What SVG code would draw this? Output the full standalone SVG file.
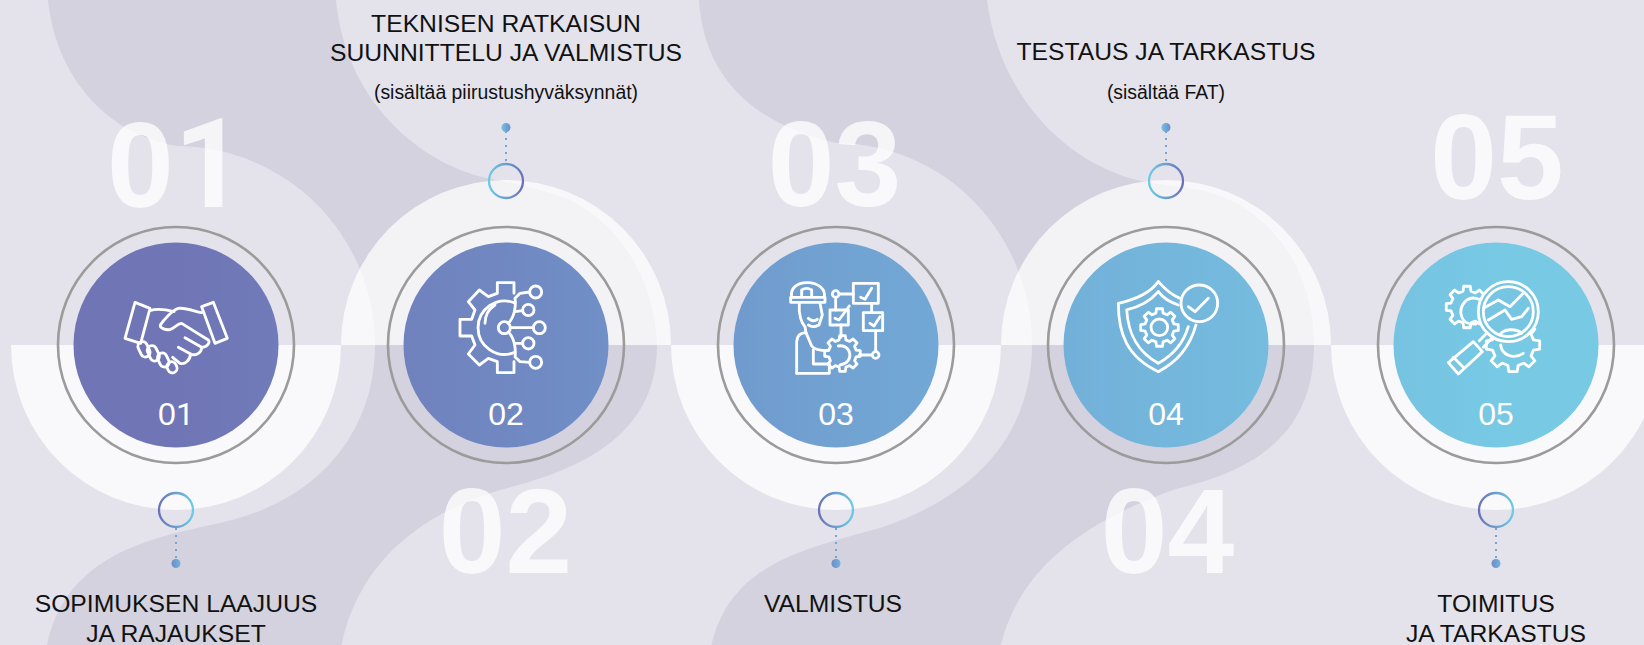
<svg xmlns="http://www.w3.org/2000/svg" xmlns:xlink="http://www.w3.org/1999/xlink" width="1644" height="645" viewBox="0 0 1644 645">
<style>
text{font-family:"Liberation Sans",Arial,sans-serif;text-anchor:middle}
.big{font-size:120px;font-weight:700;fill:#fff;fill-opacity:.76}
.one{font-family:Roboto,"Liberation Sans",sans-serif}
.lab{font-size:24.700px;fill:#111}
.sub{font-size:19.400px;fill:#111}
.num{font-size:32px;fill:#fff}
.ring{fill:none;stroke:#9b9b9b;stroke-width:2.600}
.icon{fill:none;stroke:#fff;stroke-width:8.500;stroke-linejoin:round;stroke-linecap:round}
.gear{fill:none;stroke:#fff;stroke-width:2.800;stroke-linejoin:round;vector-effect:non-scaling-stroke}
.up{fill:#fff;fill-opacity:.72}
.down{fill:#fff;fill-opacity:.76}
.wave{fill:#d3d2de}
.dots{stroke:#6ea6dc;stroke-width:2;stroke-dasharray:2 5;fill:none}
.rt{fill:none;stroke:url(#rt);stroke-width:2.300}
.rb{fill:none;stroke:url(#rb);stroke-width:2.300}
</style>
<defs>
<linearGradient id="all" gradientUnits="userSpaceOnUse" x1="176" y1="0" x2="1496" y2="0">
<stop offset="0" stop-color="#7075b5"/><stop offset=".25" stop-color="#7088c2"/><stop offset=".5" stop-color="#71a2d2"/><stop offset=".75" stop-color="#74b6dc"/><stop offset="1" stop-color="#77c9e4"/>
</linearGradient>
<linearGradient id="rt"><stop offset="0" stop-color="#6ccbe4"/><stop offset="1" stop-color="#6a72b8"/></linearGradient>
<linearGradient id="rb"><stop offset="0" stop-color="#6a72b8"/><stop offset="1" stop-color="#6ccbe4"/></linearGradient>
<linearGradient id="dt" x1="0" x2="1"><stop offset="0" stop-color="#6fc3e2"/><stop offset="1" stop-color="#6f8ac6"/></linearGradient>
<linearGradient id="db" x1="0" x2="1"><stop offset="0" stop-color="#6f8ac6"/><stop offset="1" stop-color="#6fb5dc"/></linearGradient>
<path id="gearShape" class="gear" d="M75.700,-18.900L98.800,-15.600L98.800,15.600L75.700,18.900L66.900,40.200L80.900,58.800L58.800,80.900L40.200,66.900L18.900,75.700L15.600,98.800L-15.600,98.800L-18.900,75.700L-40.200,66.900L-58.800,80.900L-80.900,58.800L-66.900,40.200L-75.700,18.900L-98.800,15.600L-98.800,-15.600L-75.700,-18.900L-66.900,-40.200L-80.900,-58.800L-58.800,-80.900L-40.200,-66.900L-18.900,-75.700L-15.600,-98.800L15.600,-98.800L18.900,-75.700L40.200,-66.900L58.800,-80.900L80.900,-58.800L66.900,-40.200Z"/>
</defs>
<rect width="1644" height="645" fill="#e4e3ec"/>
<path class="wave" d="M48,0C55,70 100,132 176,146A199,199 0 0 1 375,345C375,430 320,505 210,525C140,540 65,560 47,645L341.500,645C355,580 400,520 500,490C590,468 657,430 657,345C655,280 620,225 570,200C530,185 510,183 491,179C420,165 345,100 336,0Z"/>
<path class="wave" d="M699,0C703,70 745,122 836,143A196,202 0 0 1 1032,345C1032,430 980,495 880,528C800,550 730,565 711.500,645L1000.700,645C1016,585 1060,530 1176,489C1260,470 1314,430 1314,345C1314,270 1270,205 1200,190C1170,185 1155,184 1141,181C1070,165 1000,100 987,0Z"/>
<path class="down" d="M11,345H341A165,165 0 0 1 11,345Z"/>
<path class="up" d="M341,345A165,165 0 0 1 671,345Z"/>
<path class="down" d="M671,345H1001A165,165 0 0 1 671,345Z"/>
<path class="up" d="M1001,345A165,165 0 0 1 1331,345Z"/>
<path class="down" d="M1331,345H1661A165,165 0 0 1 1331,345Z"/>
<g id="big-numbers">
<text class="big" x="176" y="207">0<tspan class="one" font-size="124">1</tspan></text>
<text class="big" x="505.500" y="573">02</text>
<text class="big" x="834.500" y="206">03</text>
<text class="big" x="1167.500" y="573">04</text>
<text class="big" x="1497" y="199">05</text>
</g>
<g id="connectors">
<path class="dots" d="M176,528V560"/>
<path class="dots" d="M506,131V164"/>
<path class="dots" d="M836,528V560"/>
<path class="dots" d="M1166,131V164"/>
<path class="dots" d="M1496,528V560"/>
</g>
<g id="node-1">
<circle class="ring" cx="176" cy="345" r="118"/>
<circle cx="176" cy="345" r="102.500" fill="url(#all)"/>
<g class="icon" transform="translate(100 270) scale(.3333)">
<path d="M105,97L150,115L122,220L75,205Z"/>
<path d="M305,110L340,97L382,205L345,220Z"/>
<path d="M150,122C170,115 195,118 222,125"/>
<path d="M305,128C285,125 260,112 235,115C220,118 190,150 181,165C178,175 200,182 212,178C225,172 235,160 245,160L325,210C330,215 325,232 305,232L255,203"/>
<path d="M305,232C305,250 285,258 272,252L235,232"/>
<path d="M272,252C270,270 255,285 240,280L218,262"/>
<rect x="-14" y="-24" width="28" height="48" rx="14" transform="translate(132 238) rotate(-25)"/>
<rect x="-14" y="-24" width="28" height="48" rx="14" transform="translate(160 250) rotate(-25)"/>
<rect x="-14" y="-22" width="28" height="44" rx="14" transform="translate(190 270) rotate(-25)"/>
<rect x="-14" y="-17" width="28" height="34" rx="14" transform="translate(216 292) rotate(-25)"/>
</g>
<text class="num" x="176" y="424.500">0<tspan class="one">1</tspan></text>
<circle class="rb" cx="176" cy="510" r="17"/>
<circle cx="176" cy="563.500" r="4.500" fill="url(#db)"/>
<text class="lab" x="176" y="612">SOPIMUKSEN LAAJUUS</text>
<text class="lab" x="176" y="642">JA RAJAUKSET</text>
</g>
<g id="node-2">
<circle class="ring" cx="506" cy="345" r="118"/>
<circle cx="506" cy="345" r="102.500" fill="url(#all)"/>
<g class="icon" transform="translate(440 260) scale(.3333)">
<path d="M222,100L222,68L172,68L172,100L145,110L118,90L85,125L105,150L95,178L60,178L60,228L95,228L105,255L85,282L118,315L145,295L172,305L172,338L222,338L222,305"/>
<path d="M222,128A80,80 0 1 0 222,278"/>
<path d="M135,190C135,165 145,148 165,135"/>
<circle cx="193" cy="203" r="18"/>
<path d="M211,203H280"/>
<circle cx="298" cy="203" r="18"/>
<circle cx="287" cy="96" r="18"/>
<circle cx="265" cy="150" r="17"/>
<circle cx="265" cy="250" r="17"/>
<circle cx="287" cy="307" r="18"/>
<path d="M205,190C225,170 228,135 225,115L240,100L269,96"/>
<path d="M225,155L248,152"/>
<path d="M205,216C225,236 228,271 225,291L240,305L269,307"/>
<path d="M225,250L248,250"/>
</g>
<text class="num" x="506" y="424.500">02</text>
<circle class="rt" cx="506" cy="181" r="17"/>
<circle cx="506" cy="127.500" r="4.500" fill="url(#dt)"/>
<text class="lab" x="506" y="32">TEKNISEN RATKAISUN</text>
<text class="lab" x="506" y="61">SUUNNITTELU JA VALMISTUS</text>
<text class="sub" x="506" y="98.500">(sisältää piirustushyväksynnät)</text>
</g>
<g id="node-3">
<circle class="ring" cx="836" cy="345" r="118"/>
<circle cx="836" cy="345" r="102.500" fill="url(#all)"/>
<g class="icon" transform="translate(770 260) scale(.3333)">
<path d="M65,112C60,85 80,68 112,68C145,68 168,88 163,112"/>
<path d="M62,112V127H165V112Z"/>
<path d="M95,110V90Q110,80 125,90V110"/>
<path d="M88,130C85,165 95,190 105,200L108,220"/>
<path d="M150,130L157,165L147,195Q128,205 115,195"/>
<path d="M115,175Q130,188 142,178"/>
<path d="M80,340V245Q82,218 108,218L125,258Q135,272 175,272"/>
<path d="M80,340H178V312H130V270"/>
<rect x="250" y="70" width="75" height="60"/>
<path d="M272,112L285,118L305,85"/>
<circle cx="197" cy="102" r="10"/>
<path d="M207,102H250M197,112V150"/>
<rect x="180" y="150" width="55" height="45"/>
<path d="M195,175L207,180L238,138"/>
<path d="M213,195V232"/>
<rect x="280" y="158" width="58" height="54"/>
<path d="M300,190L312,198L330,170"/>
<path d="M305,130V158M317,212V275"/>
<circle cx="317" cy="285" r="10"/>
<path d="M307,285H268"/>
<path d="M205,258C245,250 255,310 210,315"/>
</g>
<use xlink:href="#gearShape" href="#gearShape" transform="translate(842.500 353.500) scale(.18)"/>
<text class="num" x="836" y="424.500">03</text>
<circle class="rb" cx="836" cy="510" r="17"/>
<circle cx="836" cy="563.500" r="4.500" fill="url(#db)"/>
<text class="lab" x="833" y="612">VALMISTUS</text>
</g>
<g id="node-4">
<circle class="ring" cx="1166" cy="345" r="118"/>
<circle cx="1166" cy="345" r="102.500" fill="url(#all)"/>
<g class="icon" transform="translate(1100 270) scale(.3333)">
<path d="M175,35C150,70 100,90 55,100C55,190 80,260 175,305C235,275 270,230 288,165"/>
<path d="M175,35C195,58 215,75 240,85"/>
<path d="M175,65C150,95 120,110 80,120C85,190 110,245 175,280C220,255 250,220 265,170"/>
<path d="M175,65C190,85 205,95 235,105"/>
<circle cx="178" cy="172" r="25"/>
<circle cx="298" cy="100" r="55"/>
<path d="M265,110L285,125L325,85"/>
</g>
<use xlink:href="#gearShape" href="#gearShape" transform="translate(1159.500 327.500) scale(.19)"/>
<text class="num" x="1166" y="424.500">04</text>
<circle class="rt" cx="1166" cy="181" r="17"/>
<circle cx="1166" cy="127.500" r="4.500" fill="url(#dt)"/>
<text class="lab" x="1166" y="60">TESTAUS JA TARKASTUS</text>
<text class="sub" x="1166" y="98.500">(sisältää FAT)</text>
</g>
<g id="node-5">
<circle class="ring" cx="1496" cy="345" r="118"/>
<circle cx="1496" cy="345" r="102.500" fill="url(#all)"/>
<use xlink:href="#gearShape" href="#gearShape" transform="translate(1467 307) scale(.21)"/>
<use xlink:href="#gearShape" href="#gearShape" transform="translate(1513 345) scale(.27)"/>
<circle cx="1508.300" cy="311.700" r="30" fill="#76c6e3"/>
<g class="icon" transform="translate(1430 270) scale(.3333)">
<circle cx="235" cy="125" r="90"/>
<circle cx="235" cy="125" r="75"/>
<path d="M148,88C110,72 85,110 95,140C100,155 115,165 138,162"/>
<path d="M160,115L205,90L240,110L280,70"/>
<path d="M175,150L225,120L245,148L275,140L295,115"/>
<path d="M210,195C220,175 260,175 275,190"/>
<path d="M212,225C215,255 250,270 280,250"/>
<path d="M170,190L148,212M185,205L160,232"/>
<path d="M130,215L157,245L85,312L55,278Z"/>
<path d="M70,262L100,292"/>
</g>
<text class="num" x="1496" y="424.500">05</text>
<circle class="rb" cx="1496" cy="510" r="17"/>
<circle cx="1496" cy="563.500" r="4.500" fill="url(#db)"/>
<text class="lab" x="1496" y="612">TOIMITUS</text>
<text class="lab" x="1496" y="642">JA TARKASTUS</text>
</g>
</svg>
